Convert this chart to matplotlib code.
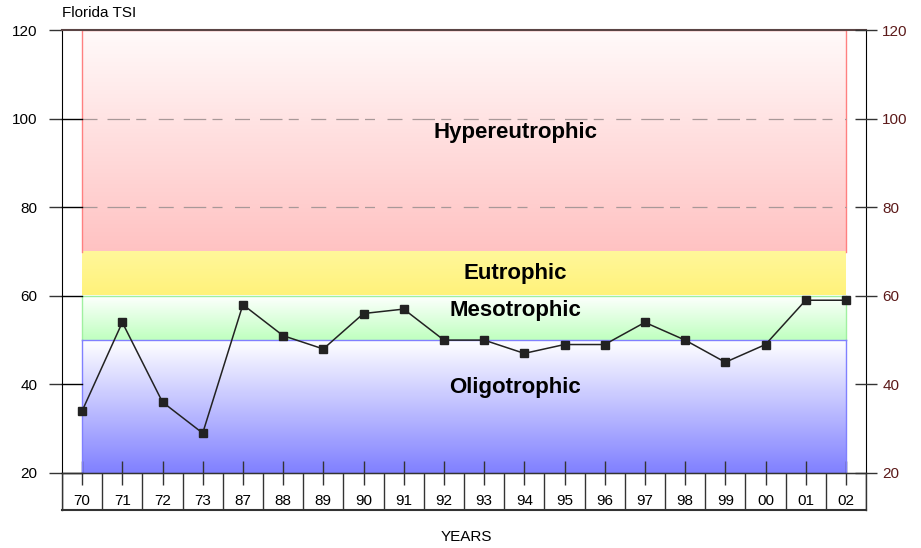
import numpy as np
import matplotlib
matplotlib.use("Agg")
import matplotlib.pyplot as plt
from matplotlib.colors import LinearSegmentedColormap

plt.rcParams['font.family'] = ['Liberation Sans', 'DejaVu Sans']

years = ["70", "71", "72", "73", "87", "88", "89", "90", "91", "92",
         "93", "94", "95", "96", "97", "98", "99", "00", "01", "02"]
tsi = [34, 54, 36, 29, 58, 51, 48, 56, 57, 50,
       50, 47, 49, 49, 54, 50, 45, 49, 59, 59]

band_names = ["Hypereutrophic", "Eutrophic", "Mesotrophic", "Oligotrophic"]
band_low = [70, 60, 50, 20]
band_high = [120, 70, 60, 50]
band_top_col = ["#fffafa", "#fff79a", "#ffffff", "#ffffff"]
band_bot_col = ["#ffc2c2", "#fff27a", "#bfffbf", "#8080ff"]
band_edge_col = ["#ff8080", None, "#a0f0a0", "#8080ff"]
label_y = [96.9, 65.0, 56.6, 39.4]

yticks = [20, 40, 60, 80, 100, 120]
grid_vals = [80, 100]

W, H = 921, 548
fig = plt.figure(figsize=(W / 100, H / 100), dpi=100)

left = 62 / W
right = 866 / W
bottom = (H - 473) / H
top = (H - 30) / H
ax = fig.add_axes([left, bottom, right - left, top - bottom])
n = len(years)
x = np.arange(n)
ax.set_xlim(-0.5, n - 0.5)
ax.set_ylim(20, 120)

# bands
for name, lo, hi, ct, cb, ce in zip(band_names, band_low, band_high,
                                    band_top_col, band_bot_col, band_edge_col):
    cmap = LinearSegmentedColormap.from_list(name, [cb, ct])
    grad = np.linspace(0, 1, 256).reshape(-1, 1)
    ax.imshow(grad, cmap=cmap, origin='lower', aspect='auto',
              extent=(0, n - 1, lo, hi), zorder=1, interpolation='bilinear')
    if ce is not None:
        ax.plot([0, 0], [lo, hi], color=ce, lw=1, zorder=2)
        ax.plot([n - 1, n - 1], [lo, hi], color=ce, lw=1, zorder=2)
        ax.plot([0, n - 1], [hi, hi], color=ce, lw=1, zorder=2)

# grid lines
for g in grid_vals:
    ax.plot([0, n - 1], [g, g], color='#a89898', lw=0.9,
            dashes=(12, 8, 18, 5, 8, 10), zorder=2)
for g in yticks[:-1]:
    ax.plot([-0.5, 0], [g, g], color='black', lw=1, zorder=3, clip_on=False)
ax.plot([-0.5, n - 0.5], [120, 120], color='#5a4444', lw=1.5, zorder=3,
        clip_on=False)

for name, yv in zip(band_names, label_y):
    ax.text(10.77, yv, name, ha='center', va='center', fontsize=16,
            fontweight='bold', color='black', zorder=5)

ax.plot(x, tsi, color='#222222', lw=1.1, marker='s', markersize=6,
        markerfacecolor='#222222', markeredgecolor='#222222', zorder=6)

ax.spines['top'].set_visible(False)
ax.spines['left'].set_color('black')
ax.spines['right'].set_color('black')
ax.spines['bottom'].set_color('black')

ax.set_yticks(yticks)
ax.set_yticklabels([str(v) for v in yticks])
ax.tick_params(axis='y', direction='out', length=9.4, width=1, color='#333333',
               labelsize=11, pad=8.5, labelcolor='black')
ax.set_xticks(x)
ax.set_xticklabels([])
ax.tick_params(axis='x', direction='inout', length=17.3, width=1,
               color='#333333')

ax2r = ax.twinx()
ax2r.set_ylim(20, 120)
ax2r.set_yticks(yticks)
ax2r.set_yticklabels([str(v) for v in yticks])
ax2r.tick_params(axis='y', direction='inout', length=16.5, width=1,
                 color='#333333', labelsize=11, pad=3.5, labelcolor='#5c1a1a')
for s in ax2r.spines.values():
    s.set_visible(False)

# category box below
bb = (H - 510) / H
ax3 = fig.add_axes([left, bb, right - left, bottom - bb])
ax3.set_xlim(-0.5, n - 0.5)
ax3.set_ylim(0, 1)
ax3.patch.set_visible(False)
for b in np.arange(n + 1) - 0.5:
    ax3.axvline(b, color='#333333', lw=1)
for i, yl in enumerate(years):
    ax3.text(i, 0.25, yl, ha='center', va='center', fontsize=11)
ax3.set_xticks([])
ax3.set_yticks([])
for s in ax3.spines.values():
    s.set_color('#333333')
    s.set_linewidth(1)
ax3.spines['bottom'].set_linewidth(1.5)

fig.text(466 / W, 1 - 537 / H, "YEARS", ha='center', va='center', fontsize=11)
fig.text(62 / W, 1 - 13 / H, "Florida TSI", ha='left', va='center', fontsize=11)

fig.savefig("out.png", dpi=100)
